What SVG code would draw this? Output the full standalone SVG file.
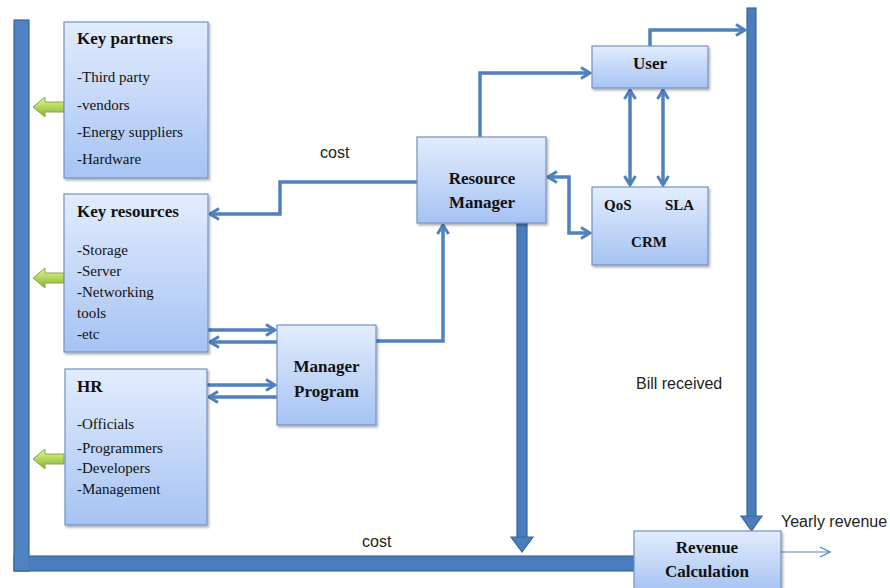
<svg xmlns="http://www.w3.org/2000/svg" width="890" height="588" viewBox="0 0 890 588">
<defs>
<linearGradient id="boxg" x1="0" y1="0" x2="0" y2="1">
<stop offset="0" stop-color="#e2ecfd"/>
<stop offset="1" stop-color="#a6c3f3"/>
</linearGradient>
<linearGradient id="greeng" x1="0" y1="0" x2="0" y2="1">
<stop offset="0" stop-color="#e6f2a6"/>
<stop offset="0.5" stop-color="#b5d65c"/>
<stop offset="1" stop-color="#86ad37"/>
</linearGradient>
<filter id="sh" x="-10%" y="-10%" width="130%" height="130%">
<feDropShadow dx="1.5" dy="2" stdDeviation="1.2" flood-color="#000" flood-opacity="0.3"/>
</filter>
<marker id="ah" viewBox="0 0 12 14" refX="10.5" refY="7" markerWidth="12" markerHeight="14" markerUnits="userSpaceOnUse" orient="auto-start-reverse">
<path d="M1.5,1.5 L10.5,7 L1.5,12.5" fill="none" stroke="#4f81bd" stroke-width="3" stroke-linejoin="miter"/>
</marker>
<marker id="thin" viewBox="0 0 12 12" refX="11" refY="6" markerWidth="12" markerHeight="12" markerUnits="userSpaceOnUse" orient="auto">
<path d="M1,1 L11,6 L1,11" fill="none" stroke="#4f81bd" stroke-width="1.2"/>
</marker>
<style>
.box{fill:url(#boxg);stroke:#7392c4;stroke-width:1.2;filter:url(#sh)}
.t{font-family:"Liberation Serif","Times New Roman",serif;font-weight:bold;font-size:17px;fill:#111}
.tc{font-family:"Liberation Serif","Times New Roman",serif;font-weight:bold;font-size:17px;fill:#111;text-anchor:middle}
.s{font-family:"Liberation Serif","Times New Roman",serif;font-weight:bold;font-size:15px;fill:#111}
.i{font-family:"Liberation Serif","Times New Roman",serif;font-size:15px;fill:#111}
.lab{font-family:"Liberation Sans",Arial,sans-serif;font-size:16px;fill:#222}
.c{fill:none;stroke:#4f81bd;stroke-width:3.5}
.bar{fill:#4a7dbd;stroke:#3a679f;stroke-width:1.2}
.green{fill:url(#greeng);stroke:#86a83e;stroke-width:1}
</style>
</defs>
<rect width="890" height="588" fill="#fff"/>

<g id="connectors">
<rect class="bar" x="14" y="20" width="15" height="551"/>
<rect class="bar" x="14" y="556" width="620" height="15"/>
<rect x="15" y="21" width="13" height="549" fill="#4f83c2"/>
<rect class="bar" x="747" y="8" width="9" height="512"/>
<polygon class="bar" points="741,516 762,516 751.5,531"/>
<rect class="bar" x="517" y="223" width="10" height="318"/>
<polygon class="bar" points="511,537 533,537 522,552"/>
<path class="c" d="M417,182 H280 V214 H210" marker-end="url(#ah)"/>
<path class="c" d="M376,341 H443 V225" marker-end="url(#ah)"/>
<path class="c" d="M480,137 V73 H590" marker-end="url(#ah)"/>
<path class="c" d="M650,46 V30 H745" marker-end="url(#ah)"/>
<path class="c" d="M548,177 H569 V233 H590" marker-start="url(#ah)" marker-end="url(#ah)"/>
<path class="c" d="M630,90 V185" marker-start="url(#ah)" marker-end="url(#ah)"/>
<path class="c" d="M663,90 V185" marker-start="url(#ah)" marker-end="url(#ah)"/>
<path class="c" d="M208,330 H275" marker-end="url(#ah)"/>
<path class="c" d="M277,342 H210" marker-end="url(#ah)"/>
<path class="c" d="M207,385 H275" marker-end="url(#ah)"/>
<path class="c" d="M277,397 H209" marker-end="url(#ah)"/>
<path d="M781,552 H830" fill="none" stroke="#4f81bd" stroke-width="1.2" marker-end="url(#thin)"/>
<polygon class="green" points="33,107 45,97 45,102 64,102 64,112 45,112 45,117"/>
<polygon class="green" points="33,278 45,268 45,273 64,273 64,283 45,283 45,288"/>
<polygon class="green" points="33,459 45,449 45,454 64,454 64,464 45,464 45,469"/>
<text class="lab" x="320" y="158">cost</text>
<text class="lab" x="362" y="547">cost</text>
<text class="lab" x="636" y="389">Bill received</text>
<text class="lab" x="781" y="527">Yearly revenue</text>
</g>

<g id="key-partners">
<rect class="box" x="64" y="22" width="144" height="156"/>
<text class="t" x="77" y="44">Key partners</text>
<text class="i" x="77" y="82">-Third party</text>
<text class="i" x="77" y="110">-vendors</text>
<text class="i" x="77" y="137">-Energy suppliers</text>
<text class="i" x="77" y="164">-Hardware</text>
</g>

<g id="key-resources">
<rect class="box" x="64" y="194" width="144" height="158"/>
<text class="t" x="77" y="217">Key resources</text>
<text class="i" x="77" y="255">-Storage</text>
<text class="i" x="77" y="276">-Server</text>
<text class="i" x="77" y="297">-Networking</text>
<text class="i" x="77" y="318">tools</text>
<text class="i" x="77" y="339">-etc</text>
</g>

<g id="hr">
<rect class="box" x="65" y="369" width="142" height="156"/>
<text class="t" x="77" y="392">HR</text>
<text class="i" x="77" y="429">-Officials</text>
<text class="i" x="77" y="453">-Programmers</text>
<text class="i" x="77" y="473">-Developers</text>
<text class="i" x="77" y="494">-Management</text>
</g>

<g id="manager-program">
<rect class="box" x="277" y="325" width="99" height="100"/>
<text class="tc" x="326.5" y="372">Manager</text>
<text class="tc" x="326.5" y="397">Program</text>
</g>

<g id="resource-manager">
<rect class="box" x="417" y="137" width="129" height="86"/>
<text class="tc" x="482" y="184">Resource</text>
<text class="tc" x="482" y="208">Manager</text>
</g>

<g id="user">
<rect class="box" x="592" y="46" width="116" height="42"/>
<text class="tc" x="650" y="69">User</text>
</g>

<g id="crm">
<rect class="box" x="592" y="187" width="116" height="78"/>
<text class="s" x="604" y="210">QoS</text>
<text class="s" x="665" y="210">SLA</text>
<text class="s" x="649" y="247" text-anchor="middle">CRM</text>
</g>

<g id="revenue-calculation">
<rect class="box" x="634" y="531" width="147" height="60"/>
<text class="tc" x="707" y="553">Revenue</text>
<text class="tc" x="707" y="577">Calculation</text>
</g>
</svg>
